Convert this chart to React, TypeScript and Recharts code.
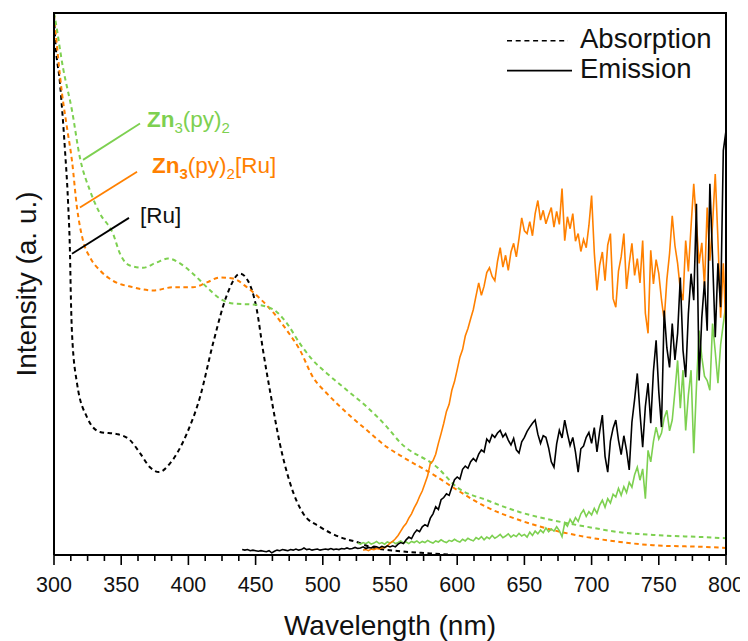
import React from 'react';
import { LineChart, Line, XAxis, YAxis, ReferenceLine, ReferenceDot } from 'recharts';

const FONT = '"Liberation Sans", Arial, Helvetica, sans-serif';
const INK = '#111111';
const BLACK = '#000000';
const ORANGE = '#ff8000';
const GREEN = '#7dd050';

// ---------- Absorption spectra (smooth, irregular sampling) ----------
const ruAbsWl = [300, 300.7, 304.5, 308.2, 310.4, 311.9, 312.6, 313.4, 317.1, 324.6, 334.2, 346.9, 356.5, 364, 371.4, 378.1, 386.3, 399, 408.6, 418.3, 428.7, 438.4, 444.3, 451, 455.5, 462, 468, 475.6, 485.3, 497.9, 512.8, 527.7, 535.1, 557.4, 580, 600];
const ruAbsVal = [99.5, 96, 86.9, 74.6, 65.4, 55.6, 47, 40.9, 31.7, 25.4, 22.7, 22.3, 21.2, 18.8, 16.2, 15.3, 16.9, 22.5, 29.1, 39, 48, 51.9, 50.6, 45.1, 37.8, 28.5, 20.6, 13.3, 7.7, 5.2, 3.3, 2.2, 1.5, 0.7, 0.3, 0];

const znAbsWl = [300, 300.7, 306.7, 313.4, 319.3, 326.8, 334.2, 343.9, 349.1, 356.5, 366.2, 376.6, 384.8, 393.8, 403.4, 413.8, 423.5, 433.2, 448.1, 455.5, 465.9, 473.4, 483, 492.7, 503.1, 518, 532.9, 547.8, 557.4, 585, 599.9, 622.2, 646.7, 671.3, 696.6, 721.1, 745.7, 782.9, 800];
const znAbsVal = [100, 99.1, 89.9, 82.0, 73.3, 67.2, 63.0, 59.3, 55.6, 53.4, 53.0, 54.0, 54.7, 53.8, 51.9, 49.4, 47.3, 46.4, 46.2, 46.0, 44.8, 42.7, 39.0, 35.9, 33.5, 30.4, 27.3, 23.6, 20.8, 16.2, 12.5, 10.1, 7.9, 6.4, 5.2, 4.2, 3.7, 3.3, 3.1];

const znRuAbsWl = [300, 306, 309.7, 313.4, 317.1, 321.6, 326.8, 334.2, 343.9, 358.8, 373.7, 388.5, 403.4, 413.8, 423.5, 433.2, 443.6, 453.3, 462.9, 473.4, 483, 492.7, 503.1, 518, 532.9, 547.8, 557.4, 585, 599.9, 622.2, 646.7, 671.3, 696.6, 721.1, 745.7, 782.9, 800];
const znRuAbsVal = [99.8, 85.1, 78.8, 72.7, 64.1, 58.0, 54.9, 52.5, 50.6, 49.4, 48.8, 49.4, 49.4, 50.3, 51.2, 51.0, 49.4, 47.3, 44.8, 41.4, 37.8, 32.8, 29.8, 26.2, 23.0, 19.9, 18.4, 14.4, 12.0, 8.8, 6.4, 4.6, 3.3, 2.4, 1.8, 1.5, 1.3];

// ---------- Emission spectra (2 nm steps) ----------
const ruEmStart = 440;
const znRuEmStart = 530;
const znEmStart = 526;
const emStep = 2;

const ruEmVal = [
  1.0, 0.9, 1.0, 0.8, 0.9, 0.8, 0.7, 0.8, 0.7, 0.6,
  0.8, 0.4, 0.7, 0.9, 0.8, 1.0, 0.9, 0.8, 1.0, 0.9,
  1.1, 0.9, 1.0, 1.3, 1.0, 1.1, 0.9, 1.0, 1.1, 0.9,
  1.0, 1.1, 1.0, 1.2, 1.0, 1.1, 1.0, 1.2, 1.1, 1.3,
  1.1, 1.2, 1.4, 1.2, 1.3, 1.5, 1.2, 1.4, 1.3, 1.6,
  1.5, 1.3, 1.6, 1.4, 1.7, 1.5,
  1.7, 1.5, 2.0, 2.3, 2.1, 2.8, 3.3, 3.0, 4.0, 4.6,
  4.3, 5.2, 5.6, 5.3, 6.8, 7.6, 8.9, 8.4, 10.2, 10.6,
  11.3, 11.0, 12.5, 13.9, 14.4, 14.0, 15.8, 16.4, 16.0, 17.2,
  17.8, 17.3, 18.6, 19.4, 19.0,
  21.4, 20.8, 22.2, 21.7, 22.5, 23.0, 21.8, 22.4, 21.2, 20.3,
  21.5, 19.4, 18.8, 20.9, 21.7, 22.8, 23.6, 24.3, 24.9, 22.3,
  20.6, 22.0, 21.7, 19.8, 17.2, 16.2, 20.5, 23.0, 21.6, 24.9,
  22.4, 20.2, 21.7, 19.0, 15.3, 19.6, 20.1, 21.7, 22.6, 20.6,
  23.5, 19.0, 22.8, 25.8, 18.2, 15.3, 21.0, 23.4, 24.9, 21.2,
  18.5, 22.0, 19.3, 15.7, 24.5, 28.7, 33.5, 26.2, 19.9, 27.4,
  31.7, 24.3, 33.9, 39.6, 30.1, 23.6, 45.1, 38.2, 34.6, 42.7,
  36.0, 40.9, 51.2, 37.8, 32.8, 44.5, 51.9, 47.0, 64.8, 32.2,
  43.8, 50.5, 41.4, 68.5, 54.9, 40.2, 53.8, 45.7, 74.6, 78.3,
];

const znRuEmVal = [
  0.9, 1.0, 0.8, 1.1, 1.0, 1.2, 1.1, 1.4, 1.3, 1.7,
  2.2, 2.5, 3.0, 3.6, 4.4, 5.2, 5.8, 6.8, 7.6, 8.7, 9.6, 10.8, 11.8, 13.2, 14.6, 16.9,
  17.4, 18.6, 20.6, 22.4, 24.3, 26.5, 27.8, 30.4, 32.0, 34.2, 36.5, 37.9, 40.4, 41.8, 43.6, 45.3, 47.8, 50.2, 47.9, 49.6,
  52.1, 53.0, 51.4, 50.6, 54.2, 56.7, 53.1, 55.3, 52.5, 55.9, 57.5, 55.0, 58.4, 62.2, 59.8, 59.3, 61.5, 58.9, 63.0, 65.4,
  61.8, 63.6, 61.1, 62.7, 64.1, 60.5, 63.4, 61.0, 67.6, 58.0, 62.4, 60.2, 63.0, 57.9, 59.3, 56.0, 58.2, 56.7, 60.8, 66.3,
  55.8, 48.8, 53.5, 55.9, 50.6, 57.2, 59.3, 47.3, 45.7, 52.4, 55.0, 59.3, 49.1, 53.8, 57.5, 51.6, 54.7, 50.2, 58.0, 44.6,
  40.9, 56.2, 50.0, 54.5, 51.9, 47.1, 43.3, 50.8, 55.6, 62.6, 57.1, 53.8, 49.0, 47.0, 58.0, 52.3, 60.6, 68.5, 61.2, 53.8,
  57.6, 49.5, 64.1, 54.3, 61.0, 70.3, 58.2, 43.8, 53.8, 41.4,
];

const znEmVal = [
  2.2, 2.0, 2.3, 2.1, 2.4, 2.0, 2.2, 2.5, 2.1, 2.3,
  2.0, 2.4, 2.2, 2.5, 2.1, 2.3, 2.6, 2.2, 2.4, 2.1,
  2.5, 2.3, 2.6, 2.2, 2.5, 2.3, 2.7, 2.4, 2.2, 2.6,
  2.4, 2.8, 2.5, 2.3, 2.7, 2.5, 2.9, 2.6, 2.4, 2.9,
  2.6, 3.1, 2.8, 2.6, 3.2, 2.9, 3.4, 2.8, 3.3, 3.0,
  3.6, 3.1, 3.4, 3.8, 3.2, 3.5, 3.9, 3.3, 3.7, 3.4,
  4.0, 3.5, 3.8, 3.3, 4.2, 3.6, 4.4, 3.9, 4.6, 4.1,
  5.0, 4.3, 4.8, 4.4, 5.2, 4.5, 3.4, 5.9, 5.3, 6.6,
  5.8, 6.9, 6.2, 7.6, 8.3, 7.1, 8.0, 7.4, 8.6, 7.7,
  9.2, 10.1, 8.8, 10.4, 9.6, 11.2, 10.7, 12.3, 11.0, 12.6,
  11.5, 13.4, 12.5, 14.8, 16.2, 13.8, 15.9, 10.4, 19.3, 17.2,
  20.9, 23.6, 21.4, 22.5, 25.3, 26.7, 22.9, 24.9, 30.2, 35.9,
  27.1, 34.1, 23.0, 29.5, 34.1, 18.8, 31.0, 41.4, 36.5, 33.0,
  32.2, 30.4, 42.7, 37.5, 31.7, 38.8, 42.7, 46.4,
];

// ---------- Axis ticks ----------
const majorTicks = [300, 350, 400, 450, 500, 550, 600, 650, 700, 750, 800];
const minorTicks = [
  312.5, 325, 337.5, 362.5, 375, 387.5, 412.5, 425, 437.5, 462.5, 475, 487.5,
  512.5, 525, 537.5, 562.5, 575, 587.5, 612.5, 625, 637.5, 662.5, 675, 687.5,
  712.5, 725, 737.5, 762.5, 775, 787.5,
];
const allTicks = [...majorTicks, ...minorTicks].sort((a, b) => a - b);

const X_MIN = 300;
const X_MAX = 800;
const Y_MIN = 0;
const Y_MAX = 100;

const pairs = (wl: number[], val: number[]) => wl.map((w, i) => ({ wl: w, v: val[i] }));
const sampled = (start: number, val: number[]) => val.map((v, i) => ({ wl: start + i * emStep, v }));

const ruAbs = pairs(ruAbsWl, ruAbsVal);
const znAbs = pairs(znAbsWl, znAbsVal);
const znRuAbs = pairs(znRuAbsWl, znRuAbsVal);
const ruEm = sampled(ruEmStart, ruEmVal);
const znRuEm = sampled(znRuEmStart, znRuEmVal);
const znEm = sampled(znEmStart, znEmVal);

// ---------- Layout ----------
const W = 740;
const H = 633;
const MARGIN = { top: 5, right: 22, left: 46, bottom: 0 };
const X_AXIS_H = 86;
const PLOT_LEFT = MARGIN.left;
const PLOT_RIGHT = W - MARGIN.right;
const PLOT_TOP = MARGIN.top;
const PLOT_BOTTOM = H - MARGIN.bottom - X_AXIS_H;
const FRAME_W = 2;

function WavelengthTick(props: any) {
  const { x, y, payload } = props;
  const major = majorTicks.includes(payload.value);
  return (
    <g>
      <line x1={x} x2={x} y1={y} y2={y + (major ? 10 : 6)} stroke={BLACK} strokeWidth={1.6} />
      {major && (
        <text x={x} y={y + 37} textAnchor="middle" fontSize={21.5} fontFamily={FONT} fill={INK}>
          {payload.value}
        </text>
      )}
    </g>
  );
}

function SpeciesLabel(props: any) {
  const { viewBox, kind } = props;
  const x = viewBox?.x ?? 0;
  const y = viewBox?.y ?? 0;
  const common = { x, y, fontFamily: FONT, fontSize: 22.5 };
  if (kind === 'zn') {
    return (
      <text {...common} fill={GREEN}>
        <tspan fontWeight={700}>Zn</tspan>
        <tspan fontSize={15} dy={6}>3</tspan>
        <tspan dy={-6}>(py)</tspan>
        <tspan fontSize={15} dy={6}>2</tspan>
      </text>
    );
  }
  if (kind === 'znru') {
    return (
      <text {...common} fill={ORANGE}>
        <tspan fontWeight={700}>Zn</tspan>
        <tspan fontWeight={700} fontSize={15} dy={6}>3</tspan>
        <tspan dy={-6}>(py)</tspan>
        <tspan fontSize={15} dy={6}>2</tspan>
        <tspan dy={-6}>[Ru]</tspan>
      </text>
    );
  }
  return (
    <text {...common} fill={INK}>
      [Ru]
    </text>
  );
}

export default function App() {
  return (
    <div style={{ position: 'relative', width: W, height: H, background: '#ffffff' }}>
      <LineChart width={W} height={H} margin={MARGIN}>
        <XAxis
          dataKey="wl"
          type="number"
          domain={[X_MIN, X_MAX]}
          allowDataOverflow
          ticks={allTicks}
          interval={0}
          tick={<WavelengthTick />}
          tickLine={false}
          tickSize={0}
          tickMargin={0}
          height={X_AXIS_H}
          axisLine={{ stroke: BLACK, strokeWidth: 2 }}
          label={{
            value: 'Wavelength (nm)',
            position: 'insideBottom',
            offset: 6,
            fontSize: 28,
            fill: INK,
            fontFamily: FONT,
          }}
        />
        <YAxis type="number" domain={[Y_MIN, Y_MAX]} allowDataOverflow hide />

        {/* absorption */}
        <Line data={ruAbs} dataKey="v" type="monotone" stroke={BLACK} strokeWidth={2} strokeDasharray="4.5 3.5" dot={false} isAnimationActive={false} />
        <Line data={znRuAbs} dataKey="v" type="monotone" stroke={ORANGE} strokeWidth={2} strokeDasharray="4.5 3.5" dot={false} isAnimationActive={false} />
        <Line data={znAbs} dataKey="v" type="monotone" stroke={GREEN} strokeWidth={2} strokeDasharray="4.5 3.5" dot={false} isAnimationActive={false} />

        {/* emission */}
        <Line data={znEm} dataKey="v" type="linear" stroke={GREEN} strokeWidth={1.6} dot={false} isAnimationActive={false} />
        <Line data={znRuEm} dataKey="v" type="linear" stroke={ORANGE} strokeWidth={1.6} dot={false} isAnimationActive={false} />
        <Line data={ruEm} dataKey="v" type="linear" stroke={BLACK} strokeWidth={1.6} dot={false} isAnimationActive={false} />

        {/* species annotations */}
        <ReferenceLine segment={[{ x: 321.6, y: 72.9 }, { x: 364, y: 79.6 }]} stroke={GREEN} strokeWidth={1.8} ifOverflow="visible" />
        <ReferenceLine segment={[{ x: 319.3, y: 64.1 }, { x: 361.8, y: 70.7 }]} stroke={ORANGE} strokeWidth={1.8} ifOverflow="visible" />
        <ReferenceLine segment={[{ x: 313.4, y: 55.6 }, { x: 355.8, y: 62.2 }]} stroke={BLACK} strokeWidth={1.8} ifOverflow="visible" />
        <ReferenceDot x={369.2} y={79.0} r={0} fill="none" stroke="none" ifOverflow="visible" label={<SpeciesLabel kind="zn" />} />
        <ReferenceDot x={372.9} y={70.5} r={0} fill="none" stroke="none" ifOverflow="visible" label={<SpeciesLabel kind="znru" />} />
        <ReferenceDot x={364.0} y={61.3} r={0} fill="none" stroke="none" ifOverflow="visible" label={<SpeciesLabel kind="ru" />} />
      </LineChart>

      <svg
        width={W}
        height={H}
        style={{ position: 'absolute', left: 0, top: 0, pointerEvents: 'none' }}
      >
        {/* plot frame: left, top and right edges as thin filled bars */}
        <rect x={PLOT_LEFT - FRAME_W / 2} y={PLOT_TOP - FRAME_W / 2} width={FRAME_W} height={PLOT_BOTTOM - PLOT_TOP + FRAME_W / 2} fill="#000000" />
        <rect x={PLOT_LEFT - FRAME_W / 2} y={PLOT_TOP - FRAME_W / 2} width={PLOT_RIGHT - PLOT_LEFT + FRAME_W} height={FRAME_W} fill="#000000" />
        <rect x={PLOT_RIGHT - FRAME_W / 2} y={PLOT_TOP - FRAME_W / 2} width={FRAME_W} height={PLOT_BOTTOM - PLOT_TOP + FRAME_W / 2} fill="#000000" />

        <text
          x={28}
          y={(PLOT_TOP + PLOT_BOTTOM) / 2}
          transform={`rotate(-90 28 ${(PLOT_TOP + PLOT_BOTTOM) / 2})`}
          textAnchor="middle"
          fontSize={28}
          fontFamily={FONT}
          fill={INK}
        >
          Intensity (a. u.)
        </text>

        {/* line-style key */}
        <line x1={499} x2={560} y1={32.7} y2={32.7} stroke={BLACK} strokeWidth={1.6} strokeDasharray="5 3.7" />
        <text x={572} y={40.3} fontSize={27.5} fontFamily={FONT} fill={INK}>Absorption</text>
        <line x1={499} x2={564} y1={62.7} y2={62.7} stroke={BLACK} strokeWidth={1.8} />
        <text x={572} y={70.3} fontSize={27.5} fontFamily={FONT} fill={INK}>Emission</text>
      </svg>
    </div>
  );
}
